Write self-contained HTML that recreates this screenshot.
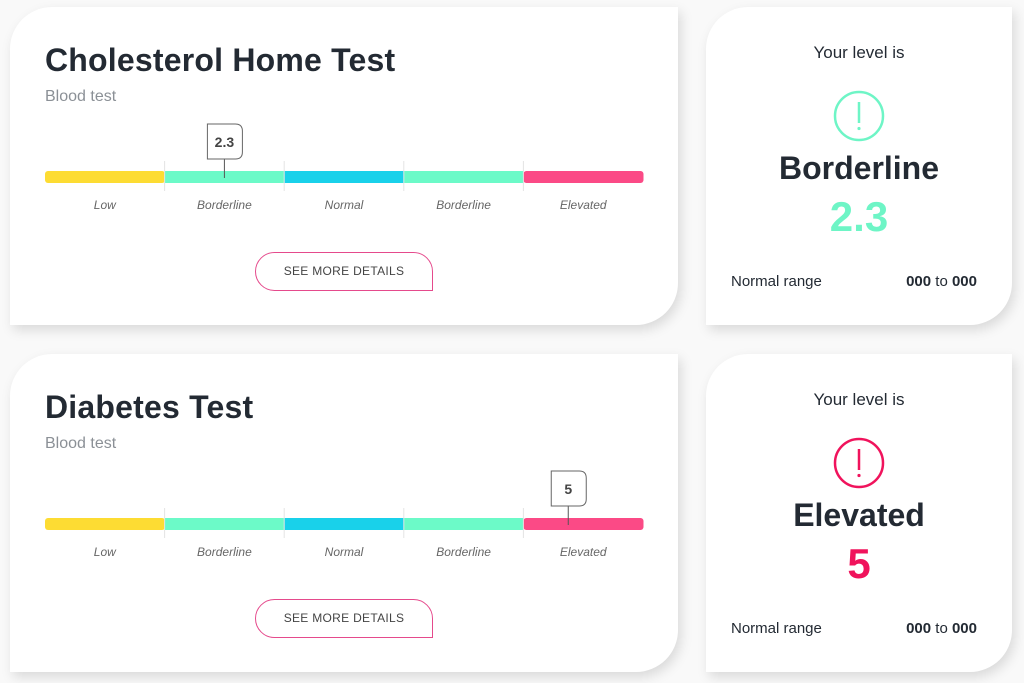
<!DOCTYPE html>
<html><head><meta charset="utf-8">
<style>
*{margin:0;padding:0;box-sizing:border-box}
body{width:1024px;height:683px;background:#f9f9f9;font-family:"Liberation Sans",sans-serif;position:relative;overflow:hidden}
.card{position:absolute;background:#fff;border-radius:42px 0 42px 0;box-shadow:3px 5px 12px rgba(0,0,0,0.13)}
.title{position:absolute;left:35px;font-size:32px;font-weight:bold;color:#232a33;letter-spacing:0.2px}
.sub{position:absolute;left:35px;font-size:16px;color:#8b9096}
.btn{position:absolute;left:245px;width:178px;height:39px;border:1.5px solid #e54a8c;border-radius:20px 20px 0 20px;font-size:12px;color:#444;text-align:center;line-height:37px;letter-spacing:0.3px;background:#fff}
.svg{position:absolute;left:0;top:0}
.lvl{position:absolute;left:0;width:306px;text-align:center;color:#232a33}
.r1{font-size:17px}
.r2{font-size:32px;font-weight:bold}
.r3{font-size:42px;font-weight:bold}
.nr{position:absolute;left:25px;font-size:15px;color:#232a33}
.nv{position:absolute;right:35px;font-size:15px;color:#232a33}
</style></head><body>
<div class="card" style="left:10px;top:7px;width:668px;height:318px">
  <div class="title" style="top:35px">Cholesterol Home Test</div>
  <div class="sub" style="top:81px">Blood test</div>
  <svg class="svg" id="chart0" width="668" height="240"></svg>
  <div class="btn" style="top:245px">SEE MORE DETAILS</div>
</div>
<div class="card" style="left:706px;top:7px;width:306px;height:318px">
  <div class="lvl r1" style="top:36px">Your level is</div>
  <svg style="position:absolute;left:127px;top:83px" width="52" height="52"><circle cx="26" cy="26" r="24" fill="none" stroke="#6ef5c6" stroke-width="2.5"/><line x1="26" y1="12" x2="26" y2="33" stroke="#6ef5c6" stroke-width="2.5"/><circle cx="26" cy="38.5" r="1.6" fill="#6ef5c6"/></svg>
  <div class="lvl r2" style="top:143px">Borderline</div>
  <div class="lvl r3" style="top:186px;color:#6ef5c6">2.3</div>
  <div class="nr" style="top:266px">Normal range</div>
  <div class="nv" style="top:266px"><b>000</b> to <b>000</b></div>
</div>
<div class="card" style="left:10px;top:354px;width:668px;height:318px">
  <div class="title" style="top:35px">Diabetes Test</div>
  <div class="sub" style="top:81px">Blood test</div>
  <svg class="svg" id="chart1" width="668" height="240"></svg>
  <div class="btn" style="top:245px">SEE MORE DETAILS</div>
</div>
<div class="card" style="left:706px;top:354px;width:306px;height:318px">
  <div class="lvl r1" style="top:36px">Your level is</div>
  <svg style="position:absolute;left:127px;top:83px" width="52" height="52"><circle cx="26" cy="26" r="24" fill="none" stroke="#f0135c" stroke-width="2.5"/><line x1="26" y1="12" x2="26" y2="33" stroke="#f0135c" stroke-width="2.5"/><circle cx="26" cy="38.5" r="1.6" fill="#f0135c"/></svg>
  <div class="lvl r2" style="top:143px">Elevated</div>
  <div class="lvl r3" style="top:186px;color:#f0135c">5</div>
  <div class="nr" style="top:266px">Normal range</div>
  <div class="nv" style="top:266px"><b>000</b> to <b>000</b></div>
</div>
<script>
const categories = ["Low","Borderline","Normal","Borderline","Elevated"];
const cholesterolBounds = [1,2,2.6,3.2,3.8,4.4];
const diabetesBounds = [2,3,3.5,4,4.25,6.25];
const cholesterolValue = [2.3];
const diabetesValue = [5];
const segColors = ["#fddc33","#6cfac8","#19d1ea","#6cfac8","#fb4a86"];
const NS="http://www.w3.org/2000/svg";
function mk(svg,tag,attrs){const e=document.createElementNS(NS,tag);for(const k in attrs)e.setAttribute(k,attrs[k]);svg.appendChild(e);return e;}
function draw(id,bounds,vals){
  const svg=document.getElementById(id);
  const x0=35,x1=633,n=categories.length,w=(x1-x0)/n,by=164,bh=12;
  function xScale(v){
    let i=0;while(i<n-1&&v>bounds[i+1])i++;
    const f=(v-bounds[i])/(bounds[i+1]-bounds[i]);
    return x0+(i+Math.max(0,Math.min(1,f)))*w;
  }
  categories.forEach((c,i)=>{
    const r=mk(svg,"rect",{x:x0+i*w,y:by,width:w+0.5,height:bh,fill:segColors[i],rx:(i==0||i==n-1)?3:0});
    
    
    if(i>0){const l=mk(svg,"line",{x1:x0+i*w,x2:x0+i*w,y1:by-10,y2:by+20,stroke:"#e4e4e4","stroke-width":1});
      
      }
    const t=mk(svg,"text",{x:x0+(i+0.5)*w,y:by+38,"text-anchor":"middle","font-size":"12","font-style":"italic",fill:"#666","font-family":"Liberation Sans, sans-serif"});
    t.textContent=c;
    
    
  });
  vals.forEach(v=>{
    const cx=xScale(v);
    const ln=mk(svg,"line",{x1:cx,x2:cx,y1:by-13,y2:by+7,stroke:"#555","stroke-width":1});
    
    
    const bx=cx-17,bt=by-47,bw=35,bhh=35;
    const p=mk(svg,"path",{d:`M${bx},${bt} H${bx+bw-7} Q${bx+bw},${bt} ${bx+bw},${bt+7} V${bt+bhh-7} Q${bx+bw},${bt+bhh} ${bx+bw-7},${bt+bhh} H${bx} Z`,fill:"#fff",stroke:"#666","stroke-width":1});
    
    
    const t=mk(svg,"text",{x:cx,y:bt+23,"text-anchor":"middle","font-size":"14","font-weight":"bold",fill:"#444","font-family":"Liberation Sans, sans-serif"});
    t.textContent=String(v);
    
    
  });
}
draw("chart0",cholesterolBounds,cholesterolValue);
draw("chart1",diabetesBounds,diabetesValue);
</script>
</body></html>
